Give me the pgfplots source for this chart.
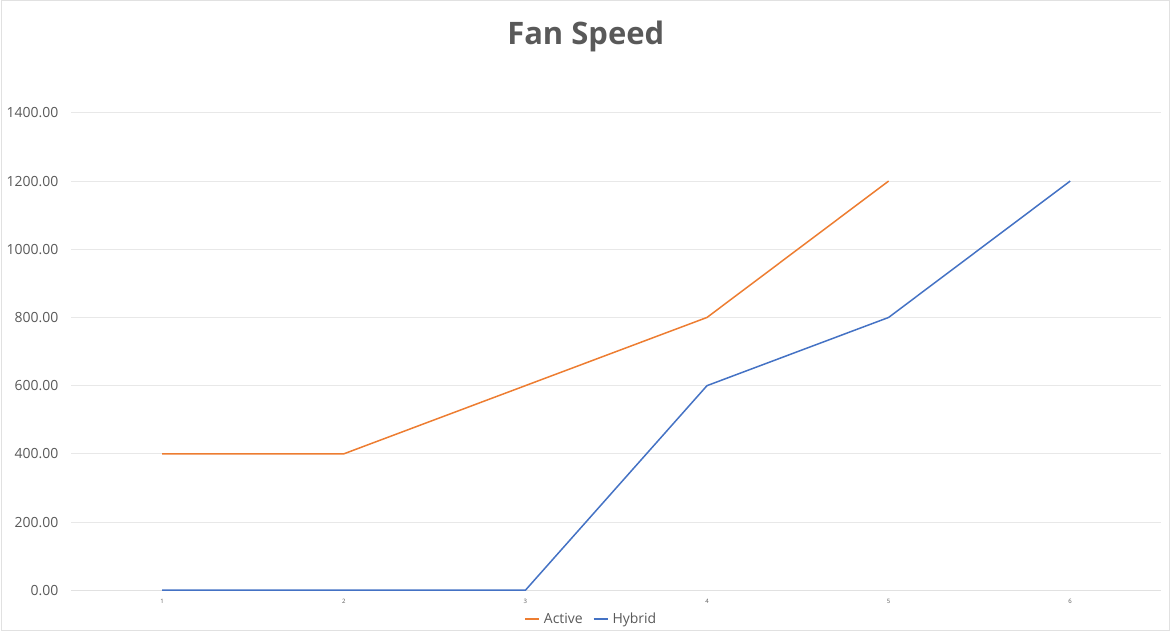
\documentclass[border=0pt]{standalone}
\usepackage{pgfplots}
\pgfplotsset{compat=1.18}
\usepackage{fontspec}
\setmainfont{Open Sans}
\definecolor{cOrange}{RGB}{237,125,49}
\definecolor{cBlue}{RGB}{68,114,196}
\definecolor{cGrid}{RGB}{232,232,232}
\definecolor{cText}{RGB}{89,89,89}
\definecolor{cFrame}{RGB}{225,225,225}
\begin{document}
\begin{tikzpicture}
\draw[cFrame,line width=0.5pt] (0.25pt,0.25pt) rectangle (584.75pt,315.75pt);
\node[font=\bfseries\fontsize{15.5}{18}\selectfont,text=cText] at (292.5pt,297.5pt) {Fan Speed};
\begin{axis}[
  at={(35pt,20.5pt)}, anchor=south west,
  scale only axis, width=545.5pt, height=239pt,
  xmin=0.5, xmax=6.5, ymin=0, ymax=1400,
  axis line style={draw=none},
  ytick={0,200,...,1400},
  xtick={1,2,3,4,5,6},
  ymajorgrids, grid style={cGrid,line width=0.5pt},
  major tick length=0pt,
  /pgf/number format/assume math mode=true,
  yticklabel style={/pgf/number format/fixed,/pgf/number format/fixed zerofill,/pgf/number format/precision=2,/pgf/number format/1000 sep={},font=\fontsize{7}{8}\selectfont,text=cText,xshift=-3pt},
  xticklabel style={font=\fontsize{3}{4}\selectfont,text=cText,yshift=-1pt},
  clip=false,
  legend columns=2,
  legend style={at={(0.478,-0.061)},anchor=center,draw=none,fill=none,font=\fontsize{7}{8}\selectfont,text=cText,/tikz/every even column/.append style={column sep=3pt},inner sep=0pt},
]
\draw[cFrame,line width=0.6pt] (axis cs:0.5,0) -- (axis cs:6.5,0);
\addplot[cOrange,line width=0.75pt,legend image code/.code={\draw[cOrange,line width=0.9pt] (2pt,0pt) -- (9pt,0pt);}] coordinates {(1,400) (2,400) (3,600) (4,800) (5,1200)};
\addlegendentry{Active}
\addplot[cBlue,line width=0.75pt,legend image code/.code={\draw[cBlue,line width=0.9pt] (2pt,0pt) -- (9pt,0pt);}] coordinates {(1,0) (2,0) (3,0) (4,600) (5,800) (6,1200)};
\addlegendentry{Hybrid}
\end{axis}
\end{tikzpicture}
\end{document}
